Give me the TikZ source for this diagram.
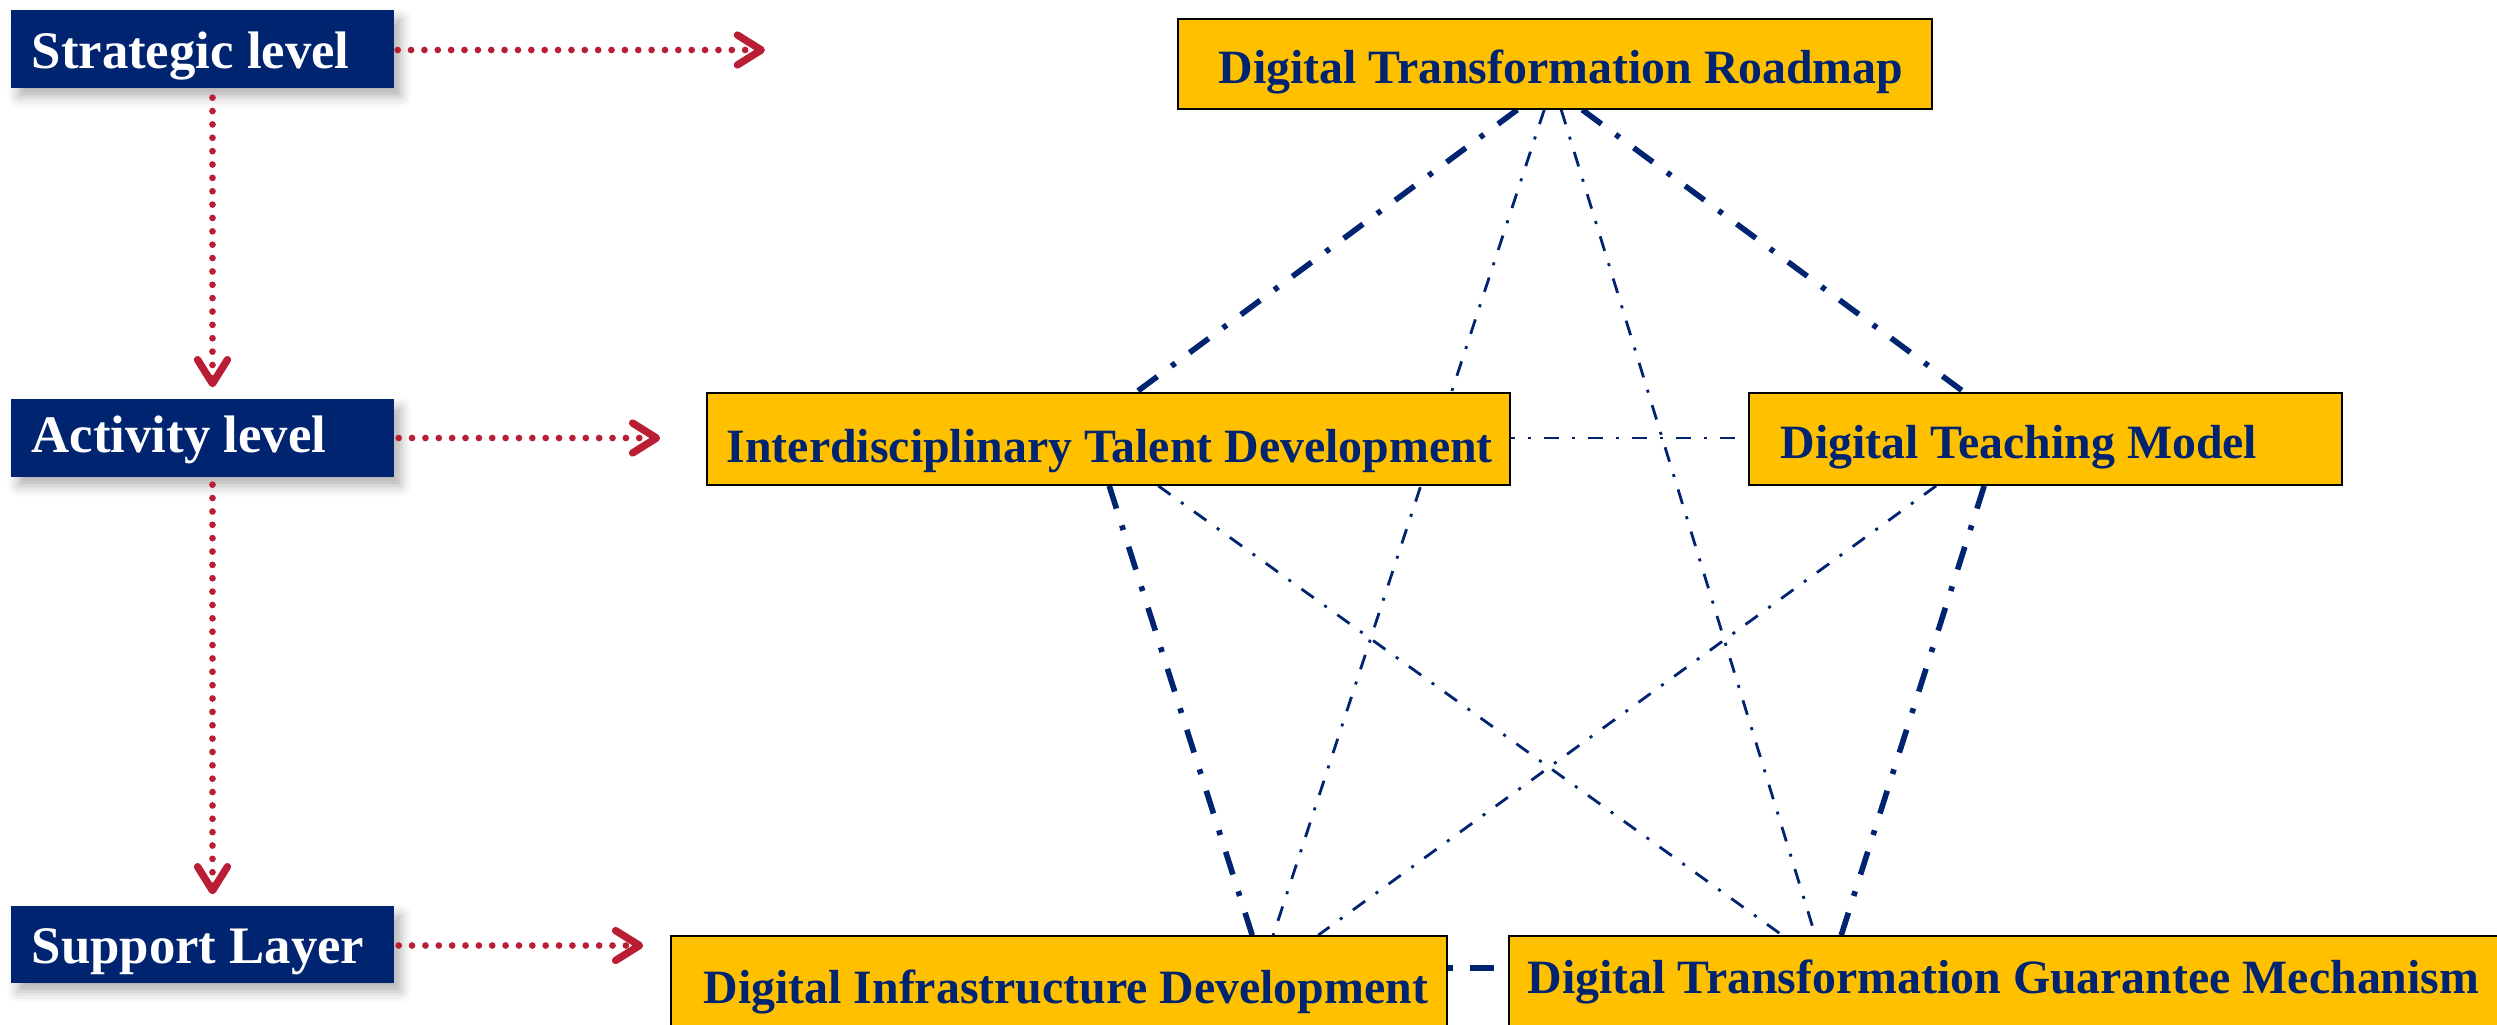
\documentclass[tikz,border=0pt]{standalone}
\usepackage{fontspec}
\setmainfont{Liberation Serif}
\usetikzlibrary{arrows.meta,calc,fit,backgrounds,shadows.blur}
\definecolor{navy}{RGB}{0,36,112}
\definecolor{gold}{RGB}{255,192,0}
\definecolor{crimson}{RGB}{186,30,52}
\begin{document}
\begin{tikzpicture}[x=0.01cm,y=-0.01cm,
  levelbox/.style={fill=navy, draw=none, inner sep=0pt,
    blur shadow={shadow xshift=2pt, shadow yshift=-2.5pt, shadow blur radius=3pt, shadow opacity=30}},
  levtxt/.style={text=white, font=\fontsize{15}{18}\selectfont\bfseries, inner sep=0pt, anchor=base west},
  ybox/.style={fill=gold, draw=black, line width=0.45pt, inner sep=0pt},
  ytxt/.style={text=navy, font=\fontsize{13.6}{16}\selectfont\bfseries, inner sep=0pt, anchor=base west},
  redarrow/.style={draw=crimson, line width=1.9pt, line cap=round, dash pattern=on 0pt off 3.8pt,
    -{Straight Barb[length=6.8pt,width=8.5pt,line width=2.1pt,round]}},
  thickdd/.style={draw=navy, line width=1.6pt, dash pattern=on 6.8pt off 5pt on 1.4pt off 5pt},
  thindd/.style={draw=navy, line width=0.8pt, dash pattern=on 4.3pt off 3.7pt on 0.85pt off 3.7pt}]

\useasboundingbox (0,0) rectangle (2497,1024);
\clip (0,0) rectangle (2497,1024);

% level labels
\node[levelbox, fit={(11,10) (394,88)}] (S) {};
\node[levtxt] (St) at (31,68) {Strategic level};
\node[levelbox, fit={(11,399) (394,477)}] (A) {};
\node[levtxt] (At) at (31,452) {Activity level};
\node[levelbox, fit={(11,906) (394,983)}] (Sup) {};
\node[levtxt] (Supt) at (31,963) {Support Layer};

% yellow boxes
\node[ybox, fit={(1178,19) (1932,109)}] (R) {};
\node[ytxt] (Rt) at (1218,83) {Digital Transformation Roadmap};
\node[ybox, fit={(707,393) (1510,485)}] (Int) {};
\node[ytxt] (Intt) at (726,462) {Interdisciplinary Talent Development};
\node[ybox, fit={(1749,393) (2342,485)}] (T) {};
\node[ytxt] (Tt) at (1780,458) {Digital Teaching Model};
\node[ybox, fit={(671,936) (1447,1070)}] (Inf) {};
\node[ytxt] (Inft) at (703,1003) {Digital Infrastructure Development};
\node[ybox, fit={(1509,936) (2560,1070)}] (G) {};
\node[ytxt] (Gt) at (1527,993) {Digital Transformation Guarantee Mechanism};

% red dotted arrows
\coordinate (Send) at (765,50);
\draw[redarrow] ($(S.east)+(3,1)$) -- (Send);
\draw[redarrow] ($(A.east)+(4,0)$) -- ($(Int.west |- A.east)+(-46,0)$);
\draw[redarrow] ($(Sup.east)+(4,1)$) -- ($(Inf.west |- Sup.east)+(-27,1)$);
\draw[redarrow] ($(S.south)+(10,9)$) -- ($(A.north)+(10,-11)$);
\draw[redarrow] ($(A.south)+(10,7)$) -- ($(Sup.north)+(10,-11)$);

% pentagon connectors
\begin{pgfonlayer}{background}
\draw[thickdd] ($(R.south west)+(340,0)$) -- ($(Int.north west)+(430,0)$);
\draw[thickdd] ($(R.south west)+(405,0)$) -- ($(T.north west)+(216,0)$);
\draw[thickdd] ($(Int.south west)+(403,0)$) -- ($(Inf.north west)+(582,0)$);
\draw[thickdd] ($(T.south west)+(236,0)$) -- ($(G.north west)+(333,0)$);
\draw[thickdd, dash pattern=on 1.4pt off 5pt on 6.8pt off 5pt] ($(Inf.north east)+(0,33)$) -- ($(G.north west)+(0,33)$);
\draw[thindd] ($(R.south west)+(367,0)$) -- ($(Inf.north west)+(603,0)$);
\draw[thindd] ($(R.south west)+(384,0)$) -- ($(G.north west)+(307,0)$);
\draw[thindd] ($(Int.south west)+(452,0)$) -- ($(G.north west)+(274,0)$);
\draw[thindd] ($(T.south west)+(188,0)$) -- ($(Inf.north west)+(648,0)$);
\draw[thindd, dash phase=3.2pt] ($(Int.east)+(0,-1)$) -- ($(T.west)+(0,-1)$);
\end{pgfonlayer}
\end{tikzpicture}
\end{document}
